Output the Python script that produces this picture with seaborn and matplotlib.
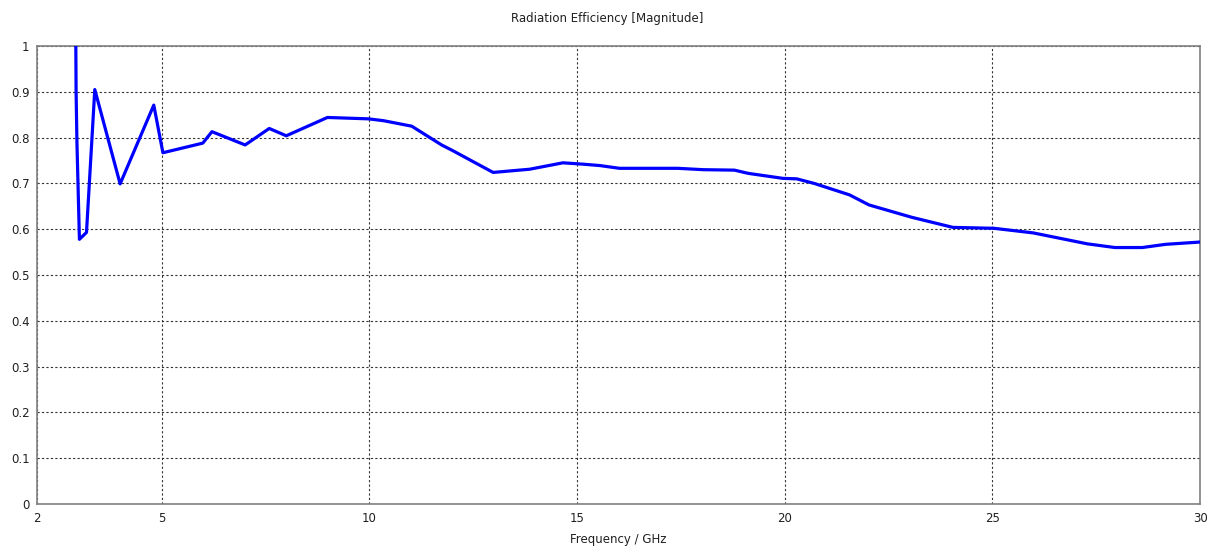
import numpy as np
import pandas as pd
import matplotlib
matplotlib.use("Agg")
import matplotlib.pyplot as plt
import seaborn as sns

# values
freq_ghz = [2.93, 2.94, 2.96, 3.02, 3.19, 3.39, 4.0, 4.81, 5.03, 5.99, 6.21,
            7.01, 7.59, 8.0, 8.99, 9.98, 10.34, 11.02, 11.74, 12.02, 12.98,
            13.86, 14.66, 15.15, 15.55, 16.02, 17.42, 18.04, 18.79, 19.12,
            19.96, 20.29, 20.71, 21.56, 22.03, 23.06, 24.05, 25.04, 25.98,
            27.29, 27.95, 28.61, 29.17, 30.0]
efficiency = [1.05, 0.90, 0.79, 0.578, 0.593, 0.905, 0.699, 0.871, 0.767, 0.788,
              0.813, 0.784, 0.820, 0.804, 0.844, 0.841, 0.837, 0.825, 0.784,
              0.771, 0.724, 0.731, 0.745, 0.742, 0.739, 0.733, 0.733, 0.730,
              0.729, 0.722, 0.711, 0.710, 0.700, 0.675, 0.653, 0.626, 0.604,
              0.602, 0.592, 0.568, 0.560, 0.560, 0.567, 0.572]
x_ticks = [2, 5, 10, 15, 20, 25, 30]
y_ticks = [0, 0.1, 0.2, 0.3, 0.4, 0.5, 0.6, 0.7, 0.8, 0.9, 1]
y_labels = ["0", "0.1", "0.2", "0.3", "0.4", "0.5", "0.6", "0.7", "0.8", "0.9", "1"]

df = pd.DataFrame({"freq": freq_ghz, "eff": efficiency})

sns.set_style("white")
plt.rcParams["font.family"] = ["DejaVu Sans"]

fig = plt.figure(figsize=(12.15, 5.48), dpi=100)
ax = fig.add_axes([0.0305, 0.0803, 0.9572, 0.8357])

sns.lineplot(data=df, x="freq", y="eff", sort=False, estimator=None,
             color="#0000ff", linewidth=2.3, ax=ax, zorder=3)

ax.set_xlim(2, 30)
ax.set_ylim(0, 1)
ax.set_xticks(x_ticks)
ax.set_xticklabels([str(t) for t in x_ticks])
ax.set_yticks(y_ticks)
ax.set_yticklabels(y_labels)
ax.grid(True, color="#333333", linestyle=(0, (2, 2)), linewidth=0.8)
ax.tick_params(axis="both", direction="inout", length=5, width=0.8,
               color="#707070", labelsize=8.5, labelcolor="#202020", pad=3)

for sp in ax.spines.values():
    sp.set_color("#808080")
    sp.set_linewidth(1.2)

ax.set_xlabel("Frequency / GHz", fontsize=8.5, color="#202020", labelpad=6)
ax.set_ylabel("")
fig.text(0.5, 0.967, "Radiation Efficiency [Magnitude]", ha="center", va="center",
         fontsize=8.5, color="#202020")

fig.savefig("out.png", dpi=100, facecolor="white")
